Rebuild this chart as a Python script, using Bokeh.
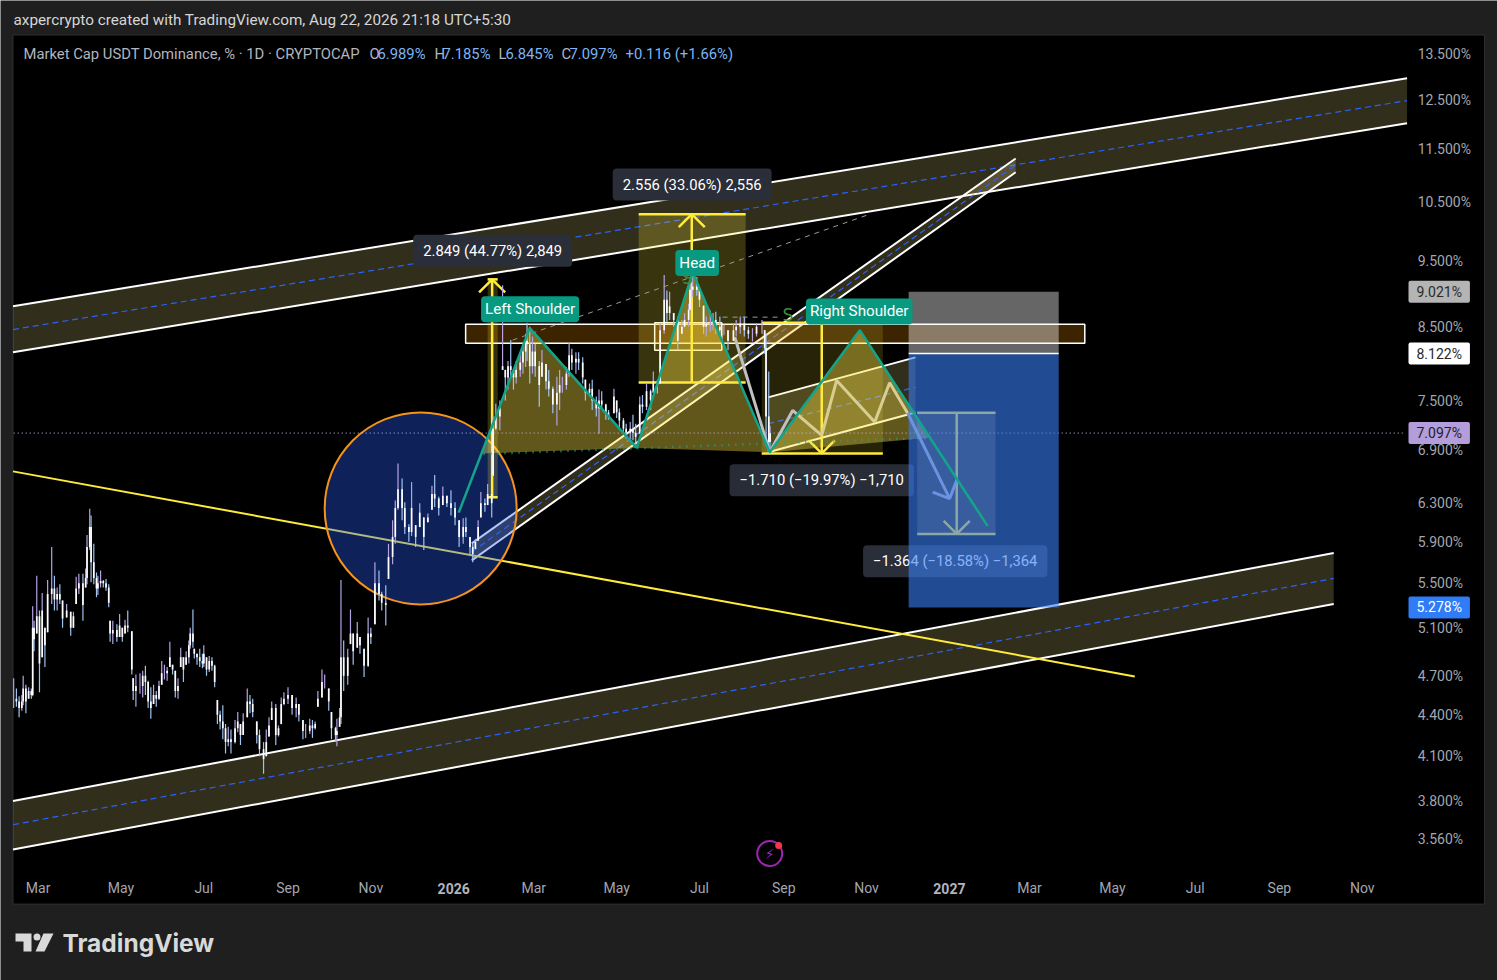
import math
import pandas as pd
from bokeh.plotting import figure
from bokeh.embed import file_html
from bokeh.resources import INLINE
from bokeh.models import (Range1d, FixedTicker, PrintfTickFormatter, Label,
                          BoxAnnotation, PolyAnnotation)

# ---------- daily bars (days after 2026-01-01, percent) ----------
days = [-324,-322,-320,-318,-317,-315,-313,-311,-310,-309,
        -307,-305,-303,-301,-299,-296,-294,-292,-290,-288,
        -285,-282,-280,-278,-276,-273,-271,-270,-268,-267,
        -265,-263,-262,-260,-258,-256,-254,-253,-251,-248,
        -246,-244,-242,-240,-237,-236,-234,-231,-229,-227,
        -225,-223,-221,-219,-217,-215,-213,-211,-209,-207,
        -205,-203,-201,-199,-197,-195,-194,-192,-191,-189,
        -187,-185,-184,-182,-180,-178,-176,-174,-172,-170,
        -168,-166,-164,-161,-159,-157,-155,-152,-150,-148,
        -145,-143,-140,-138,-136,-134,-131,-129,-127,-125,
        -122,-119,-116,-114,-111,-109,-106,-104,-102,-100,
        -97,-95,-92,-90,-87,-86,-84,-83,-81,-78,
        -76,-74,-71,-69,-66,-63,-61,-58,-55,-53,
        -50,-48,-45,-43,-41,-38,-36,-33,-31,-28,
        -25,-22,-19,-16,-14,-11,-8,-5,-2,1,
        4,7,9,12,14,16,18,20,23,25,
        28,29,31,34,36,38,40,42,44,46,
        49,51,53,54,56,58,60,63,65,68,
        70,73,76,78,80,83,85,87,90,92,
        95,97,100,102,105,107,109,112,114,118,
        120,122,125,127,130,132,134,137,139,142,
        145,147,150,152,155,157,159,162,165,168,
        170,173,174,176,179,181,184,186,189,191,
        193,196,199,202,206,208,211,214,217,220,
        223,227,229,230,232,233]
highs = [4.68,4.60,4.54,4.55,4.70,4.63,4.61,4.60,5.29,5.16,
         5.57,5.25,5.41,5.10,5.53,5.85,5.57,5.46,5.49,5.34,
         5.31,5.24,5.24,5.56,5.59,5.59,5.64,5.97,6.24,6.17,
         5.88,5.60,5.57,5.62,5.53,5.54,5.49,5.16,5.16,5.13,
         5.22,5.10,5.17,5.25,5.07,4.68,4.71,4.72,4.74,4.78,
         4.66,4.61,4.63,4.58,4.66,4.82,4.79,4.77,4.98,4.79,
         4.74,4.68,4.93,4.85,4.90,4.99,5.10,5.26,4.92,4.88,
         4.92,4.88,4.95,4.85,4.86,4.85,4.79,4.51,4.43,4.47,
         4.33,4.31,4.29,4.36,4.42,4.33,4.41,4.60,4.55,4.52,
         4.35,4.29,4.20,4.29,4.38,4.50,4.48,4.32,4.53,4.57,
         4.61,4.55,4.53,4.48,4.36,4.33,4.37,4.36,4.35,4.58,
         4.75,4.71,4.60,4.42,4.31,4.37,4.45,5.53,4.99,4.92,
         5.26,5.05,5.15,5.02,4.92,5.19,5.10,5.70,5.62,5.42,
         5.48,5.88,6.12,6.33,6.74,6.57,6.31,6.08,6.53,6.07,
         6.30,6.15,6.19,6.49,6.61,6.37,6.48,6.38,6.44,6.31,
         6.12,6.14,6.15,5.95,5.88,5.93,6.12,6.42,6.35,6.51,
         6.40,7.30,7.46,7.50,9.12,7.90,8.02,8.31,7.90,8.02,
         8.14,8.26,8.40,8.56,8.50,8.36,8.26,8.02,8.17,7.98,
         7.90,7.68,7.81,7.90,7.81,7.94,8.27,8.19,8.14,8.14,
         8.07,7.77,7.72,7.77,7.55,7.64,7.62,7.46,7.38,7.65,
         7.50,7.40,7.28,7.21,7.23,7.32,7.21,7.55,7.57,7.72,
         7.64,7.88,7.77,8.55,9.28,9.04,9.02,8.70,8.65,8.60,
         8.70,8.84,9.15,9.33,9.25,9.09,8.81,8.65,8.74,8.70,
         8.72,8.65,8.53,8.45,8.55,8.60,8.65,8.65,8.50,8.48,
         8.55,8.60,8.45,8.40,7.88,7.185]
lows = [4.45,4.46,4.38,4.43,4.47,4.41,4.52,4.52,4.54,4.90,
        5.05,4.57,4.85,4.77,5.06,5.31,5.25,5.25,5.31,5.10,
        5.19,5.03,5.10,5.31,5.40,5.16,5.46,5.49,5.82,5.51,
        5.49,5.37,5.39,5.46,5.46,5.43,5.28,4.98,4.96,4.98,
        5.02,4.98,5.05,5.06,4.71,4.51,4.46,4.56,4.53,4.55,
        4.45,4.37,4.48,4.46,4.51,4.63,4.67,4.66,4.77,4.71,
        4.53,4.52,4.77,4.65,4.79,4.80,4.92,4.93,4.84,4.79,
        4.77,4.76,4.77,4.70,4.73,4.74,4.61,4.33,4.29,4.22,
        4.12,4.17,4.12,4.19,4.27,4.18,4.25,4.38,4.41,4.38,
        4.19,4.10,3.98,4.10,4.24,4.36,4.18,4.24,4.33,4.47,
        4.48,4.40,4.38,4.35,4.22,4.23,4.26,4.23,4.29,4.46,
        4.53,4.60,4.43,4.22,4.20,4.17,4.31,4.33,4.58,4.63,
        4.96,4.79,4.93,4.88,4.69,4.77,4.96,5.13,5.34,5.25,
        5.12,5.54,5.68,5.88,6.23,6.12,5.98,5.90,5.96,5.85,
        6.05,5.82,6.10,6.23,6.26,6.17,6.28,6.26,6.17,6.07,
        5.85,5.88,5.95,5.78,5.70,5.83,5.91,6.15,6.21,6.28,
        6.15,6.60,7.13,7.13,7.90,7.50,7.64,7.81,7.64,7.72,
        7.81,7.85,7.94,8.02,7.72,7.85,7.81,7.42,7.81,7.64,
        7.55,7.34,7.19,7.38,7.60,7.64,7.81,7.90,7.85,7.90,
        7.72,7.50,7.55,7.38,7.30,7.09,7.38,7.26,7.26,7.34,
        7.28,7.17,7.09,7.03,6.99,7.01,6.92,7.09,7.34,7.38,
        7.38,7.60,7.59,7.72,8.40,8.57,8.60,8.50,8.17,8.40,
        8.50,8.50,8.74,8.94,8.96,8.79,8.40,8.36,8.43,8.45,
        8.40,8.36,8.38,8.17,8.30,8.36,8.40,8.36,8.33,8.29,
        8.36,8.40,8.12,6.94,6.90,6.845]
closes = [4.52,4.50,4.45,4.50,4.60,4.50,4.58,4.55,5.10,5.00,
          5.20,4.80,5.25,4.95,5.40,5.45,5.35,5.40,5.35,5.18,
          5.25,5.10,5.20,5.45,5.50,5.30,5.55,5.85,6.05,5.70,
          5.55,5.45,5.50,5.52,5.50,5.46,5.32,5.05,5.08,5.02,
          5.12,5.02,5.12,5.10,4.75,4.58,4.62,4.62,4.70,4.65,
          4.50,4.45,4.55,4.52,4.62,4.72,4.72,4.74,4.85,4.75,
          4.58,4.62,4.85,4.75,4.85,4.95,5.05,4.98,4.88,4.85,
          4.82,4.80,4.88,4.75,4.82,4.78,4.65,4.40,4.35,4.30,
          4.20,4.22,4.20,4.30,4.35,4.25,4.35,4.50,4.48,4.42,
          4.25,4.15,4.08,4.20,4.32,4.45,4.25,4.30,4.48,4.52,
          4.55,4.45,4.48,4.40,4.28,4.28,4.32,4.30,4.33,4.52,
          4.65,4.65,4.50,4.30,4.25,4.28,4.38,4.85,4.70,4.85,
          5.05,4.90,5.05,4.95,4.78,5.05,5.02,5.50,5.40,5.32,
          5.30,5.75,5.95,6.25,6.45,6.25,6.05,6.00,6.25,5.95,
          6.20,5.95,6.15,6.40,6.35,6.25,6.38,6.30,6.25,6.15,
          5.95,6.05,6.00,5.85,5.78,5.90,6.05,6.30,6.28,6.40,
          6.30,7.15,7.30,7.40,7.95,7.80,7.95,7.90,7.80,7.90,
          8.00,8.15,8.30,8.25,7.95,8.15,7.95,7.70,8.00,7.75,
          7.65,7.45,7.60,7.70,7.70,7.85,8.10,8.00,8.05,8.00,
          7.80,7.60,7.65,7.50,7.40,7.50,7.45,7.35,7.30,7.55,
          7.35,7.25,7.15,7.10,7.15,7.10,7.05,7.45,7.42,7.62,
          7.50,7.75,7.70,8.45,8.90,8.70,8.80,8.60,8.30,8.50,
          8.60,8.75,9.05,9.10,9.05,8.90,8.50,8.55,8.55,8.60,
          8.50,8.45,8.45,8.30,8.45,8.50,8.55,8.45,8.40,8.40,
          8.50,8.50,8.20,7.30,6.989,7.097]

# ---------- axes ----------
price_ticks = [13.5, 12.5, 11.5, 10.5, 9.5, 8.5, 7.5, 6.9, 6.3, 5.9, 5.5, 5.1, 4.7, 4.4, 4.1, 3.8, 3.56]
month_dates = ["2025-03-01", "2025-05-01", "2025-07-01", "2025-09-01", "2025-11-01",
               "2026-03-01", "2026-05-01", "2026-07-01", "2026-09-01", "2026-11-01",
               "2027-03-01", "2027-05-01", "2027-07-01", "2027-09-01", "2027-11-01"]
month_labels = ["Mar", "May", "Jul", "Sep", "Nov", "Mar", "May", "Jul", "Sep", "Nov",
                "Mar", "May", "Jul", "Sep", "Nov"]
year_dates = ["2026-01-01", "2027-01-01"]
year_labels = ["2026", "2027"]
axis_x_at = 701      # the price axis sits at this day
axis_y_at = 3.377    # the time axis sits at this price
pane_x = [-324.5, 759]; pane_y = [3.19, 13.95]

# ---------- drawings (days, percent) ----------
upper_x = [-324.5, 702]; upper_top = [8.80, 12.96]; upper_mid = [8.46, 12.48]; upper_bot = [8.14, 12.01]
lower_x = [-324.5, 648]; lower_top = [3.80, 5.79]; lower_mid = [3.65, 5.545]; lower_bot = [3.50, 5.31]
rise_x = [13.3, 413.8]; rise_top = [5.885, 11.31]; rise_mid = [5.80, 11.18]; rise_bot = [5.717, 11.05]
small_x = [231.5, 340]; small_top = [7.54, 8.07]; small_mid = [7.21, 7.67]; small_bot = [6.87, 7.35]
trend_x = [-324.5, 501.5]; trend_y = [6.65, 4.695]
circle_x = [-24.3]; circle_y = [6.245]
zone_x = [8.8, 464.7]; zone_y = [8.264, 8.535]
zone2_x = [148, 197.4]; zone2_y = [8.167, 8.56]
m1_x = [25, 32.4]; m1_mid = 28.3; m1_y = [6.364, 9.213]
m2_x = [136.2, 215]; m2_mid = 175.3; m2_y = [7.734, 10.29]
m3_x = [226.8, 316]; m3_mid = 271; m3_y = [6.856, 8.56]
m4_x = [341.3, 399]; m4_mid = 370.4; m4_y = [5.98, 7.345]
pos_x = [335, 445.5]; pos_stop = 9.021; pos_entry = 8.122; pos_target = 5.278
zig_x = [207, 232.7, 249.6, 271, 282, 310, 321, 334.3]
zig_y = [8.35, 6.87, 7.375, 7.07, 7.76, 7.23, 7.73, 7.34]
blue_x = [334.3, 365.2]; blue_y = [7.34, 6.35]
blue_wing_x = [352.7, 365.2, 370.4]; blue_wing_y = [6.42, 6.35, 6.55]
hs_x = [3.7, 56, 134.8, 176, 232.7, 299, 393.2]
hs_y = [6.20, 8.48, 6.92, 9.32, 6.87, 8.45, 6.06]
tri_left_x = [20.6, 56, 134.8]; tri_left_y = [6.856, 8.48, 6.92]
tri_head_x = [134.8, 176, 232.7]; tri_head_y = [6.92, 9.32, 6.87]
tri_right_x = [232.7, 299, 349.8]; tri_right_y = [6.87, 8.45, 7.04]
neck_x = [22, 349.8]; neck_y = [6.85, 7.04]
dash1_x = [43.4, 306.3]; dash1_y = [8.31, 10.29]
dash2_x = [198, 242.3]; dash2_y = [8.64, 8.64]
last_price = 7.097

WHITE = "#ffffff"; YELLOW = "#ffeb3b"; TEAL = "#12a58a"; DARK = "#1f1f1f"
FONT = "Roboto"

p = figure(width=1497, height=980, output_backend="svg", toolbar_location=None,
           y_axis_type="log", y_axis_location="right",
           x_range=Range1d(-333.7, 768.6), y_range=Range1d(2.802, 14.79),
           min_border=0, background_fill_color=DARK, border_fill_color=DARK)
p.outline_line_color = None
p.xgrid.visible = False
p.ygrid.visible = False

day_of = lambda s: (pd.Timestamp(s) - pd.Timestamp("2026-01-01")).days
month_days = [day_of(s) for s in month_dates]
xa = p.xaxis[0]
xa.ticker = FixedTicker(ticks=month_days)
xa.major_label_overrides = dict(zip(month_days, month_labels))
xa.fixed_location = axis_y_at
ya = p.yaxis[0]
ya.ticker = FixedTicker(ticks=price_ticks)
ya.formatter = PrintfTickFormatter(format="%.3f%%")
ya.fixed_location = axis_x_at
for ax in (xa, ya):
    ax.axis_line_color = None
    ax.major_tick_line_color = None
    ax.minor_tick_line_color = None
    ax.major_label_text_color = "#a3a6af"
    ax.major_label_text_font = FONT
    ax.major_label_text_font_size = "14px"
xa.major_label_standoff = 3
ya.major_label_standoff = 6

p.quad(left=[pane_x[0]], right=[pane_x[1]], bottom=[pane_y[0]], top=[pane_y[1]], fill_color="#000000",
       line_color="#303030", line_width=1, level="image")


def label(text, x, y, color="#ffffff", size=14.8, bg=None, bold=False, x_units="data", y_units="data",
          align="center", baseline="middle", pad=None, radius=0, font=FONT, alpha=1.0):
    kw = {}
    if bg is not None:
        kw.update(background_fill_color=bg, background_fill_alpha=alpha)
    if pad is not None:
        kw["padding"] = pad
    if radius:
        kw["border_radius"] = radius
    lb = Label(x=x, y=y, x_units=x_units, y_units=y_units, text=text, text_color=color,
               text_font=font, text_font_size=f"{size}px", text_align=align, text_baseline=baseline,
               text_font_style="bold" if bold else "normal", level="overlay", **kw)
    p.renderers.append(lb)
    return lb


def channel(x, top, mid, bot):
    p.varea(x=x, y1=bot, y2=top, fill_color="#fae68c", fill_alpha=0.2)
    p.line(x, top, line_color=WHITE, line_width=2)
    p.line(x, bot, line_color=WHITE, line_width=2)
    p.line(x, mid, line_color="#2962ff", line_width=1.2, line_dash="6 4")


def head(x, v, up=True, color=YELLOW, width=2.5):
    k = math.exp(13 / 589)
    wing = v / k if up else v * k
    p.line([x - 9.6, x, x + 9.6], [wing, v, wing], line_color=color, line_width=width)


def measure(xs, mid, ys, up, fill=YELLOW, color=YELLOW, alpha=0.2, width=2.5):
    p.quad(left=[xs[0]], right=[xs[1]], bottom=[ys[0]], top=[ys[1]], fill_color=fill, fill_alpha=alpha, line_color=None)
    p.line(xs, [ys[0], ys[0]], line_color=color, line_width=width)
    p.line(xs, [ys[1], ys[1]], line_color=color, line_width=width)
    p.line([mid, mid], ys, line_color=color, line_width=width)
    head(mid, ys[1] if up else ys[0], up, color, width)


channel(upper_x, upper_top, upper_mid, upper_bot)
channel(lower_x, lower_top, lower_mid, lower_bot)
channel(rise_x, rise_top, rise_mid, rise_bot)
channel(small_x, small_top, small_mid, small_bot)
p.line(trend_x, trend_y, line_color=YELLOW, line_width=2)
p.scatter(circle_x, circle_y, marker="circle", size=192, fill_color="#2962ff", fill_alpha=0.35,
          line_color="#f7931a", line_width=2)
p.quad(left=[zone_x[0]], right=[zone_x[1]], bottom=[zone_y[0]], top=[zone_y[1]],
       fill_color="#ff9800", fill_alpha=0.24, line_color=WHITE, line_width=1.5)
p.quad(left=[zone2_x[0]], right=[zone2_x[1]], bottom=[zone2_y[0]], top=[zone2_y[1]],
       fill_color="#ff9800", fill_alpha=0.18, line_color=WHITE, line_width=1.5)
measure(m1_x, m1_mid, m1_y, True)
measure(m2_x, m2_mid, m2_y, True, alpha=0.22)
measure(m3_x, m3_mid, m3_y, False, alpha=0.15)
p.line(zig_x, zig_y, line_color="#c0c0c0", line_width=3)
for tx, ty in ((tri_left_x, tri_left_y), (tri_head_x, tri_head_y), (tri_right_x, tri_right_y)):
    p.patch(tx, ty, fill_color="#ffe646", fill_alpha=0.38, line_color=None)

# bars: coloured wicks with white bodies; each bar opens at the previous close
opens = [closes[0]] + [min(max(c, l), h) for c, l, h in zip(closes[:-1], lows[1:], highs[1:])]
wick_colors = ["#b7a2e4" if c >= o else "#9cc4f2" for o, c in zip(opens, closes)]
p.segment(days, lows, days, highs, line_color=wick_colors, line_width=1.2)
p.segment(days, opens, days, closes, line_color=WHITE, line_width=1.7)

p.line([-324, 701], [last_price, last_price], line_color="#c9bdf0", line_width=1, line_dash="1 3")
p.line(neck_x, neck_y, line_color="#1fa47f", line_width=2.5, line_dash="1 6")
p.line(dash1_x, dash1_y, line_color="#9a9a9a", line_width=1, line_dash="5 5")
p.line(dash2_x, dash2_y, line_color="#9a9a9a", line_width=1, line_dash="5 5")

TAG = "#2a2e39"
label("2.849 (44.77%) 2,849", 28.7, 9.67, bg=TAG, pad=(10, 7), radius=4)
label("2.556 (33.06%) 2,556", 175.6, 10.82, bg=TAG, pad=(10, 7), radius=4)
label("\u22121.710 (\u221219.97%) \u22121,710", 271, 6.55, bg=TAG, pad=(10, 7), radius=4, alpha=0.95)
label("\u22121.364 (\u221218.58%) \u22121,364", 369.3, 5.71, bg=TAG, pad=(10, 7), radius=4)
# the two position boxes lie over the tag above, so they are added after it
n0 = len(p.renderers)
p.quad(left=[pos_x[0]], right=[pos_x[1]], bottom=[pos_entry], top=[pos_stop], fill_color=WHITE, fill_alpha=0.4, line_color=None)
p.quad(left=[pos_x[0]], right=[pos_x[1]], bottom=[pos_target], top=[pos_entry], fill_color="#377df5", fill_alpha=0.6, line_color=None)
p.line(pos_x, [pos_entry, pos_entry], line_color=WHITE, line_width=1.5)
measure(m4_x, m4_mid, m4_y, False, fill=WHITE, color="#8ba8a4", alpha=0.1)
p.line(blue_x, blue_y, line_color="#6a93e0", line_width=3)
p.line(blue_wing_x, blue_wing_y, line_color="#6a93e0", line_width=3)
p.line(hs_x, hs_y, line_color=TEAL, line_width=2.5)
for r in p.renderers[n0:]:
    r.level = "overlay"

label("S", 246, 8.67, color="#388e3c", size=17, font="DejaVu Sans")
label("S", 172.3, 9.24, color="#388e3c", size=17, font="DejaVu Sans")
label("Left Shoulder", 56.3, 8.755, size=15.2, bg="#089981", pad=(4, 4), radius=4)
label("Head", 179.3, 9.47, size=15.2, bg="#089981", pad=(4, 4), radius=4)
label("Right Shoulder", 298.6, 8.725, size=15.2, bg="#089981", pad=(4, 4), radius=4)

# lightning badge near the bottom of the pane
p.scatter([232.7], [3.476], marker="circle", size=25, fill_color=None, line_color="#9c27b0", line_width=2, level="overlay")
p.scatter([239.3], [3.524], marker="circle", size=7, fill_color="#f23645", line_color=None, level="overlay")
label("\u26a1", 232.7, 3.476, color="#9c27b0", size=14, font="DejaVu Sans")

# year labels on the time axis
for s, t in zip(year_dates, year_labels):
    label(t, day_of(s), 92, color="#b2b5be", size=14, bold=True, y_units="screen")

# price tags
for txt, val, bg, fg in (("9.021%", pos_stop, "#b4b4b4", "#2a2a2a"), ("8.122%", pos_entry, "#ffffff", "#2a2a2a"),
                         ("7.097%", last_price, "#b39ddb", "#1f1f1f"), ("5.278%", pos_target, "#2f7cf6", "#ffffff")):
    label(txt, 1408, val, size=14, color=fg, bg=bg, x_units="screen", align="left", pad=(8, 3), radius=2)

# header, legend and footer (screen units start at the page's lower left)
label("axpercrypto created with TradingView.com, Aug 22, 2026 21:18 UTC+5:30", 13, 961, size=15.3, color="#d6d6d6",
      x_units="screen", y_units="screen", align="left")
GREY = "#b2b5be"; BLUE = "#7db4f4"
for txt, px_x, col in (("Market Cap USDT Dominance, % \u00b7 1D \u00b7 CRYPTOCAP", 23, GREY),
                       ("O", 369, GREY), ("6.989%", 377, BLUE), ("H", 434, GREY), ("7.185%", 442, BLUE),
                       ("L", 498, GREY), ("6.845%", 505, BLUE), ("C", 561, GREY), ("7.097%", 569, BLUE),
                       ("+0.116 (+1.66%)", 625, BLUE)):
    label(txt, px_x, 927, color=col, x_units="screen", y_units="screen", align="left")
label("TradingView", 62, 38, color="#d9d9d9", size=24.5, bold=True, x_units="screen", y_units="screen", align="left", font="Inter")
logo_t_x = [15, 31, 31, 23, 23, 15]; logo_t_y = [47, 47, 29, 29, 39, 39]
logo_s_x = [43, 53, 44, 35]; logo_s_y = [47, 47, 29, 29]
for xs, ys in ((logo_t_x, logo_t_y), (logo_s_x, logo_s_y)):
    p.add_layout(PolyAnnotation(xs=xs, ys=ys, xs_units="screen", ys_units="screen", fill_color="#d9d9d9",
                                fill_alpha=1, line_color=None, level="overlay"))
p.add_layout(BoxAnnotation(left=33, right=40, bottom=40, top=47, left_units="screen", right_units="screen",
                           bottom_units="screen", top_units="screen", fill_color="#d9d9d9", fill_alpha=1,
                           line_color=None, border_radius=4, level="overlay"))

open("out.html", "w").write(file_html(p, INLINE))
